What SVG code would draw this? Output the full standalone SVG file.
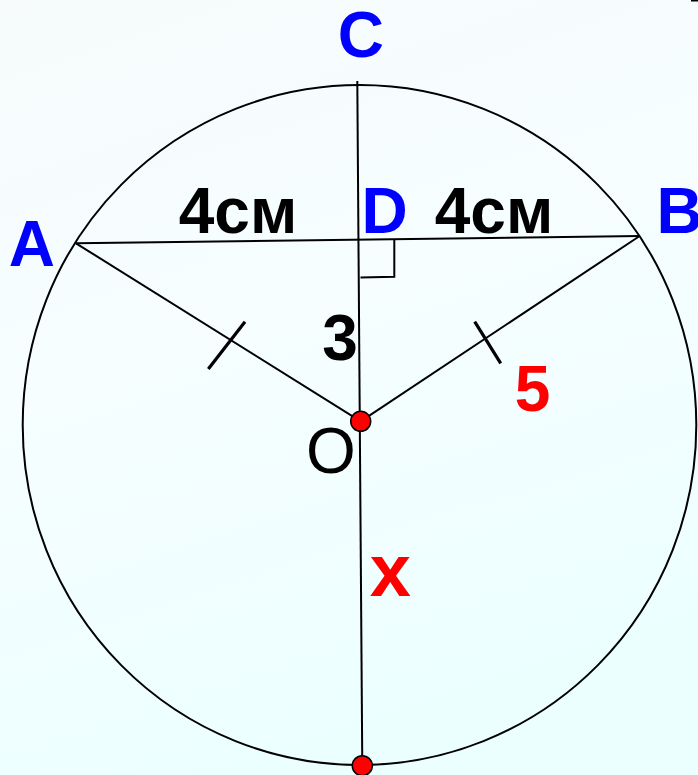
<svg xmlns="http://www.w3.org/2000/svg" width="698" height="775" viewBox="0 0 698 775">
<defs>
<linearGradient id="bg" x1="0" y1="0" x2="0.3" y2="1">
<stop offset="0" stop-color="#F7FBFC"/>
<stop offset="0.5" stop-color="#F6FEFF"/>
<stop offset="1" stop-color="#ECFFFF"/>
</linearGradient>
<style>
.ln{stroke:#000;stroke-width:2;fill:none}
.tk{stroke:#000;stroke-width:3.2;fill:none}
.pt{fill:#FF0000;stroke:#000;stroke-width:1.5}
.lb{font-family:"Liberation Sans",Arial,sans-serif;font-weight:bold;font-size:64px;text-anchor:middle}
.blue{fill:#0000FF}
.blk{fill:#000}
.red{fill:#FF0000}
</style>
</defs>
<rect width="698" height="775" fill="url(#bg)"/>
<rect x="691" y="0" width="7" height="1.5" fill="#000"/>
<g id="connectors">
<ellipse id="circle" class="ln" cx="359.5" cy="425" rx="336.8" ry="340"/>
<line class="ln" x1="76" y1="243.3" x2="639.7" y2="236"/>
<line class="ln" x1="357.3" y1="81" x2="362.3" y2="766"/>
<line class="ln" x1="76" y1="243.3" x2="360.7" y2="421.3"/>
<line class="ln" x1="639.7" y1="236" x2="360.7" y2="421.3"/>
<line class="tk" x1="245" y1="321.7" x2="208.3" y2="369"/>
<line class="tk" x1="474.7" y1="321.7" x2="500.7" y2="363.3"/>
<polyline class="ln" points="394.3,239.6 394.3,276.7 360.5,277.5"/>
</g>
<g id="O"><circle class="pt" cx="360.7" cy="421.3" r="10"/><text x="330.8" y="472.5" style="font-family:'Liberation Sans',Arial,sans-serif;font-size:64px;text-anchor:middle" fill="#000">O</text></g>
<g id="E"><circle class="pt" cx="362.3" cy="765.7" r="10"/></g>
<g id="A"><text class="lb blue" x="31.8" y="265.7">A</text></g>
<g id="B"><text class="lb blue" x="656.6" y="233.3" style="text-anchor:start">B</text></g>
<g id="C"><text class="lb blue" x="360.8" y="56.5">C</text></g>
<g id="D"><text class="lb blue" x="384.5" y="233.3">D</text></g>
<g id="labels">
<text class="lb blk" x="238" y="233.3">4см</text>
<text class="lb blk" x="494" y="233.3">4см</text>
<text class="lb blk" x="340" y="360">3</text>
<text class="lb red" x="532.5" y="410.7">5</text>
<text class="lb red" x="390.3" y="596" style="font-size:74px">x</text>
</g>
</svg>
